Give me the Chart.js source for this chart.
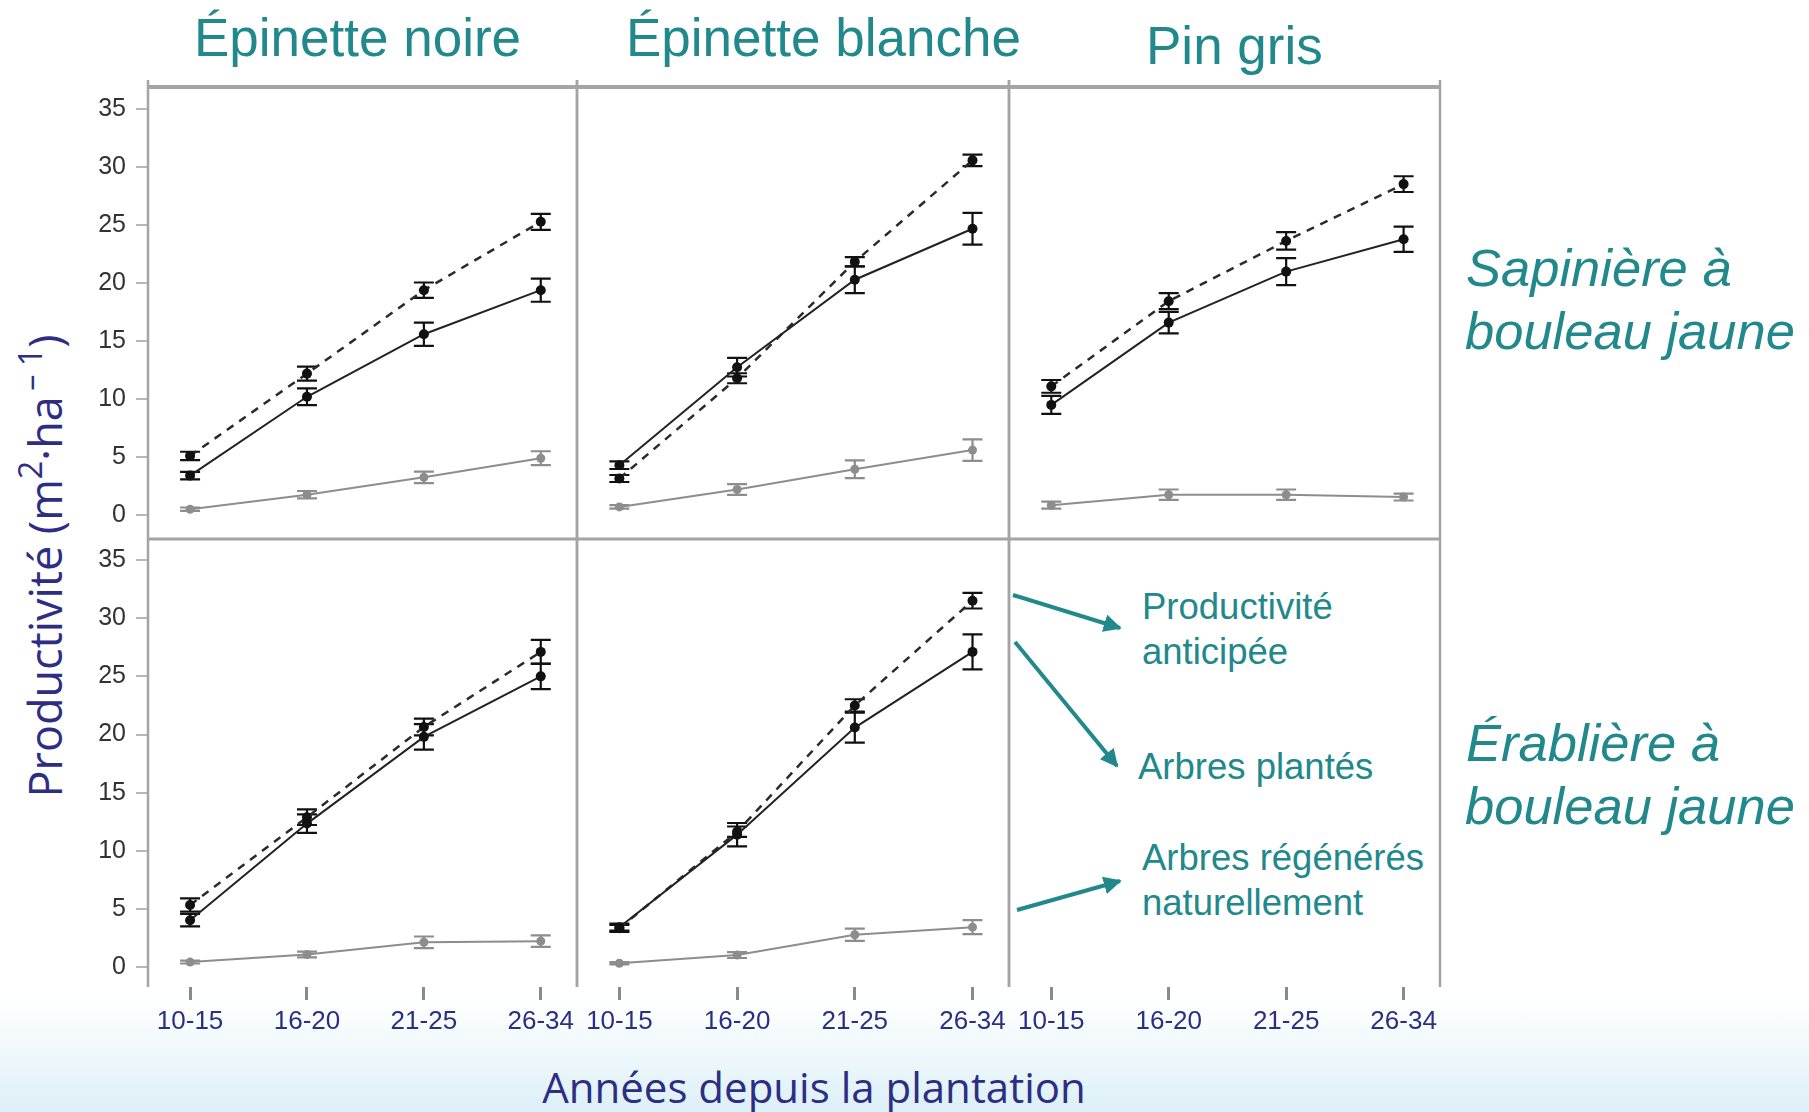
<!DOCTYPE html>
<html lang="fr">
<head>
<meta charset="utf-8">
<title>Productivité selon les années depuis la plantation</title>
<script src="https://cdn.jsdelivr.net/npm/chart.js@4.4.1/dist/chart.umd.min.js"></script>
<style>
  html, body { margin: 0; padding: 0; }
  body {
    width: 1809px; height: 1112px; position: relative; overflow: hidden;
    background: linear-gradient(to bottom, #ffffff 0px, #ffffff 1000px, #dcf0f7 1112px);
    font-family: "Liberation Sans", Arial, sans-serif;
  }
  canvas.panel { position: absolute; }
  .txt { position: absolute; white-space: nowrap; line-height: 1; }
  .title { color: #21888c; font-size: 53px; }
  .row { color: #21888c; font-size: 52.5px; font-style: italic; }
  .note { color: #21888c; font-size: 36.5px; }
  .axis { color: #2d2e83; font-family: "Open Sans", "Noto Sans", sans-serif; }
  .axis sup { font-size: 0.72em; vertical-align: 0.6em; line-height: 0; }
  #ytitle { font-size: 45px; left: 44px; top: 566px; transform: translate(-50%, -50%) rotate(-90deg); }
  #xtitle { font-size: 42px; left: 814px; top: 1066px; transform: translateX(-50%); }
  svg#arrows { position: absolute; left: 0; top: 0; pointer-events: none; }
</style>
</head>
<body>

<div class="txt title" style="left:194px; top:11px;">Épinette noire</div>
<div class="txt title" style="left:626px; top:11px;">Épinette blanche</div>
<div class="txt title" style="left:1146px; top:19px;">Pin gris</div>

<div class="txt row" style="left:1466px; top:242px;">Sapinière à</div>
<div class="txt row" style="left:1465px; top:305px;">bouleau jaune</div>
<div class="txt row" style="left:1466px; top:717px;">Érablière à</div>
<div class="txt row" style="left:1465px; top:780px;">bouleau jaune</div>

<div class="txt note" style="left:1142px; top:589px;">Productivité</div>
<div class="txt note" style="left:1142px; top:634px;">anticipée</div>
<div class="txt note" style="left:1138px; top:749px;">Arbres plantés</div>
<div class="txt note" style="left:1142px; top:840px;">Arbres régénérés</div>
<div class="txt note" style="left:1142px; top:885px;">naturellement</div>

<div id="ytitle" class="txt axis">Productivité (m<sup>2</sup>·ha<sup>&#8201;– 1</sup>)</div>
<div id="xtitle" class="txt axis">Années depuis la plantation</div>

<svg id="arrows" width="1809" height="1112">
  <defs>
    <marker id="head" viewBox="0 0 10 10" refX="9" refY="5" markerWidth="4.5" markerHeight="4.5" orient="auto">
      <path d="M0,0 L10,5 L0,10 z" fill="#21888c"/>
    </marker>
  </defs>
  <g stroke="#21888c" stroke-width="4" fill="none" marker-end="url(#head)">
    <line x1="1013" y1="595" x2="1120" y2="628"/>
    <line x1="1015" y1="642" x2="1117" y2="766"/>
    <line x1="1017" y1="910" x2="1120" y2="881"/>
  </g>
</svg>

<script>
// Categories and ticks
const categories = ['10-15', '16-20', '21-25', '26-34'];
const xTicks = [0, 1, 2, 3];
const yTicks = [0, 5, 10, 15, 20, 25, 30, 35];

// Sapinière à bouleau jaune - Épinette noire
const noireSapAnticipee = [5.1, 12.2, 19.4, 25.3];
const noireSapAnticipeeErr = [0.36, 0.6, 0.66, 0.69];
const noireSapPlantes = [3.4, 10.2, 15.6, 19.4];
const noireSapPlantesErr = [0.33, 0.72, 1.0, 1.0];
const noireSapRegeneres = [0.5, 1.75, 3.25, 4.9];
const noireSapRegeneresErr = [0.15, 0.32, 0.5, 0.6];

// Sapinière à bouleau jaune - Épinette blanche
const blancheSapAnticipee = [3.15, 11.8, 21.85, 30.6];
const blancheSapAnticipeeErr = [0.3, 0.43, 0.4, 0.5];
const blancheSapPlantes = [4.3, 12.75, 20.3, 24.7];
const blancheSapPlantesErr = [0.33, 0.8, 1.15, 1.37];
const blancheSapRegeneres = [0.7, 2.2, 3.95, 5.6];
const blancheSapRegeneresErr = [0.15, 0.47, 0.76, 0.93];

// Sapinière à bouleau jaune - Pin gris
const pinSapAnticipee = [11.1, 18.45, 23.65, 28.55];
const pinSapAnticipeeErr = [0.55, 0.69, 0.76, 0.68];
const pinSapPlantes = [9.5, 16.6, 21.0, 23.8];
const pinSapPlantesErr = [0.78, 0.93, 1.16, 1.09];
const pinSapRegeneres = [0.85, 1.75, 1.75, 1.55];
const pinSapRegeneresErr = [0.3, 0.45, 0.45, 0.3];

// Érablière à bouleau jaune - Épinette noire
const noireEraAnticipee = [5.35, 12.9, 20.65, 27.1];
const noireEraAnticipeeErr = [0.57, 0.67, 0.72, 1.03];
const noireEraPlantes = [4.05, 12.35, 19.8, 25.0];
const noireEraPlantesErr = [0.53, 0.79, 1.1, 1.1];
const noireEraRegeneres = [0.45, 1.1, 2.15, 2.25];
const noireEraRegeneresErr = [0.12, 0.25, 0.5, 0.5];

// Érablière à bouleau jaune - Épinette blanche
const blancheEraAnticipee = [3.35, 11.65, 22.5, 31.5];
const blancheEraAnticipeeErr = [0.3, 0.45, 0.53, 0.67];
const blancheEraPlantes = [3.45, 11.4, 20.6, 27.1];
const blancheEraPlantesErr = [0.3, 1.0, 1.29, 1.5];
const blancheEraRegeneres = [0.35, 1.05, 2.8, 3.45];
const blancheEraRegeneresErr = [0.1, 0.25, 0.53, 0.6];

// Panel layout
const colEdges = [148, 577, 1009, 1440];
const rowEdges = [87, 539, 987];
const rowYRange = [[-2.07, 36.93], [-1.69, 36.8]];
const xMin = -0.36, xMax = 3.31;

const toPoints = values => values.map((v, i) => ({ x: xTicks[i], y: v }));

function seriesSet(ant, antErr, pl, plErr, reg, regErr) {
    return [
        {
            label: 'Arbres régénérés naturellement',
            data: toPoints(reg), errors: regErr, errColor: '#8d8d8d',
            borderColor: '#8d8d8d', borderWidth: 2,
            pointRadius: 4.5, pointBackgroundColor: '#8d8d8d', pointBorderWidth: 0
        },
        {
            label: 'Arbres plantés',
            data: toPoints(pl), errors: plErr, errColor: '#111',
            borderColor: '#222', borderWidth: 2,
            pointRadius: 5, pointBackgroundColor: '#111', pointBorderWidth: 0
        },
        {
            label: 'Productivité anticipée',
            data: toPoints(ant), errors: antErr, errColor: '#111',
            borderColor: '#2b2b2b', borderWidth: 2.5, borderDash: [8, 7],
            pointRadius: 5, pointBackgroundColor: '#111', pointBorderWidth: 0
        }
    ];
}

// Error bars through the chart scales
const errorBars = {
    id: 'errorBars',
    beforeDatasetsDraw(chart) {
        const ctx = chart.ctx;
        const xs = chart.scales.x, ys = chart.scales.y;
        chart.data.datasets.forEach(ds => {
            if (!ds.errors) return;
            ctx.save();
            ctx.strokeStyle = ds.errColor;
            ctx.lineWidth = 2.2;
            ds.data.forEach((p, i) => {
                const e = ds.errors[i];
                const x = xs.getPixelForValue(p.x);
                const y1 = ys.getPixelForValue(p.y + e);
                const y2 = ys.getPixelForValue(p.y - e);
                ctx.beginPath();
                ctx.moveTo(x, y1); ctx.lineTo(x, y2);
                ctx.moveTo(x - 10, y1); ctx.lineTo(x + 10, y1);
                ctx.moveTo(x - 10, y2); ctx.lineTo(x + 10, y2);
                ctx.stroke();
            });
            ctx.restore();
        });
    }
};

// Panel frame lines
const panelFrame = {
    id: 'panelFrame',
    afterDraw(chart, args, opts) {
        const { ctx, chartArea: a } = chart;
        ctx.save();
        ctx.strokeStyle = '#a4a4a4';
        ctx.lineWidth = 2.5;
        ctx.beginPath();
        ctx.moveTo(a.left, a.top - opts.extendTop); ctx.lineTo(a.left, a.bottom);
        ctx.moveTo(a.right, a.top - opts.extendTop); ctx.lineTo(a.right, a.bottom);
        ctx.stroke();
        ctx.lineWidth = opts.topWidth;
        ctx.beginPath();
        ctx.moveTo(a.left - 1, a.top); ctx.lineTo(a.right + 1, a.top);
        ctx.stroke();
        ctx.restore();
    }
};

function makePanel(col, row, datasets) {
    const padT = 10, padR = 6;
    const leftAxisW = 80, bottomAxisH = 62;
    const showY = col === 0, showX = row === 1;
    const padL = showY ? 0 : 6;
    const padB = showX ? 0 : 6;
    const areaW = colEdges[col + 1] - colEdges[col];
    const areaH = rowEdges[row + 1] - rowEdges[row];
    const offL = showY ? leftAxisW : padL;
    const offB = showX ? bottomAxisH : padB;

    const canvas = document.createElement('canvas');
    canvas.className = 'panel';
    canvas.width = areaW + offL + padR;
    canvas.height = areaH + padT + offB;
    canvas.style.left = (colEdges[col] - offL) + 'px';
    canvas.style.top = (rowEdges[row] - padT) + 'px';
    document.body.appendChild(canvas);

    return new Chart(canvas.getContext('2d'), {
        type: 'line',
        data: { datasets },
        options: {
            responsive: false,
            animation: false,
            layout: { padding: { left: padL, right: padR, top: padT, bottom: padB } },
            elements: { line: { tension: 0 } },
            plugins: {
                legend: { display: false },
                tooltip: { enabled: false },
                panelFrame: { extendTop: row === 0 ? 7 : 0, topWidth: row === 0 ? 4 : 3 }
            },
            scales: {
                x: {
                    type: 'linear',
                    display: showX,
                    min: xMin, max: xMax,
                    bounds: 'data',
                    afterBuildTicks: s => { s.ticks = xTicks.map(v => ({ value: v })); },
                    afterFit: s => {
                        if (showX) s.height = bottomAxisH;
                        s.paddingLeft = 0; s.paddingRight = 0;
                    },
                    border: { display: false },
                    grid: { drawOnChartArea: false, drawTicks: true, tickLength: 13, color: '#8a8a8a', lineWidth: 3 },
                    ticks: {
                        stepSize: 1, maxRotation: 0, padding: 6,
                        color: '#2d2e83',
                        font: { family: 'Liberation Sans', size: 26 },
                        callback: v => categories[v]
                    }
                },
                y: {
                    type: 'linear',
                    display: showY,
                    min: rowYRange[row][0], max: rowYRange[row][1],
                    bounds: 'data',
                    afterBuildTicks: s => { s.ticks = yTicks.map(v => ({ value: v })); },
                    afterFit: s => {
                        if (showY) s.width = leftAxisW;
                        s.paddingTop = 0; s.paddingBottom = 0;
                    },
                    border: { display: false },
                    grid: { drawOnChartArea: false, drawTicks: true, tickLength: 12, color: '#b8b8b8', lineWidth: 2 },
                    ticks: {
                        stepSize: 5, padding: 10,
                        color: '#333',
                        font: { family: 'Liberation Sans', size: 25 },
                        callback: v => String(v)
                    }
                }
            }
        },
        plugins: [errorBars, panelFrame]
    });
}

makePanel(0, 0, seriesSet(noireSapAnticipee, noireSapAnticipeeErr, noireSapPlantes, noireSapPlantesErr, noireSapRegeneres, noireSapRegeneresErr));
makePanel(1, 0, seriesSet(blancheSapAnticipee, blancheSapAnticipeeErr, blancheSapPlantes, blancheSapPlantesErr, blancheSapRegeneres, blancheSapRegeneresErr));
makePanel(2, 0, seriesSet(pinSapAnticipee, pinSapAnticipeeErr, pinSapPlantes, pinSapPlantesErr, pinSapRegeneres, pinSapRegeneresErr));
makePanel(0, 1, seriesSet(noireEraAnticipee, noireEraAnticipeeErr, noireEraPlantes, noireEraPlantesErr, noireEraRegeneres, noireEraRegeneresErr));
makePanel(1, 1, seriesSet(blancheEraAnticipee, blancheEraAnticipeeErr, blancheEraPlantes, blancheEraPlantesErr, blancheEraRegeneres, blancheEraRegeneresErr));
makePanel(2, 1, []);
</script>
</body>
</html>
